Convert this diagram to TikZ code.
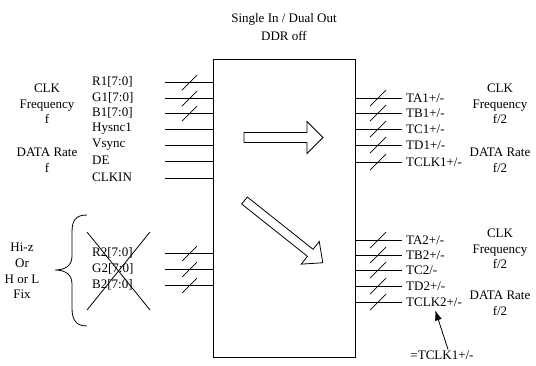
\documentclass[tikz,border=0pt]{standalone}
\usepackage{fontspec}
\setmainfont{Liberation Serif}
\usetikzlibrary{arrows.meta,positioning,calc}
\begin{document}
\begin{tikzpicture}[x=1pt,y=-1pt,>=Latex,font=\fontsize{13}{15.6}\selectfont,
wire/.style={line width=0.8pt},
busmark/.style={line width=0.7pt},
pinlabel/.style={anchor=west,inner sep=0pt},
ratelabel/.style={align=center,inner sep=0pt},
blockarrow/.style={draw,line width=0.8pt,fill=white,line join=miter}]
\useasboundingbox (0,0) rectangle (536,365);
\node[draw,line width=0.9pt,minimum width=142pt,minimum height=298pt,inner sep=0pt] (chip) at (284,208) {};
\node[ratelabel] (title) at (284,27) {Single In / Dual Out\\[2.4pt]DDR off};
\foreach \y/\lab/\bus [count=\i] in {82/R1[7:0]/1,98/G1[7:0]/1,113/B1[7:0]/1,129/Hysnc1/0,145/Vsync/0,161/DE/0,178/CLKIN/0,253/R2[7:0]/1,269/G2[7:0]/1,285/B2[7:0]/1}{
  \coordinate (in\i) at (165,\y);
  \draw[wire] (in\i) -- (in\i -| chip.west);
  \node[pinlabel] (inlab\i) at (92,\y-0.5) {\lab};
  \ifnum\bus=1 \draw[busmark] ($(in\i)+(17,8)$) -- ++(15,-15); \fi
}
\foreach \y/\lab [count=\i] in {98/{TA1+/-},113/{TB1+/-},129/{TC1+/-},145/{TD1+/-},162/{TCLK1+/-},240/{TA2+/-},255/{TB2+/-},270/{TC2/-},286/{TD2+/-},302/{TCLK2+/-}}{
  \coordinate (out\i) at (402,\y);
  \draw[wire] (out\i -| chip.east) -- (out\i);
  \node[pinlabel] (outlab\i) at (406,\y) {\lab};
  \draw[busmark] ($(out\i)+(-32,8)$) -- ++(16,-16);
}
\node[ratelabel] (clkin) at (47,104) {CLK\\Frequency\\f};
\node[ratelabel] (ratein) at (47,160.5) {DATA Rate\\f};
\node[ratelabel] (clkout1) at (500,104) {CLK\\Frequency\\f/2};
\node[ratelabel] (rateout1) at (500,160.5) {DATA Rate\\f/2};
\node[ratelabel] (clkout2) at (500,249) {CLK\\Frequency\\f/2};
\node[ratelabel] (rateout2) at (500,303) {DATA Rate\\f/2};
\node[ratelabel] (fix) at (22,271) {Hi-z\\Or\\H or L\\Fix};
\draw[wire] (87,215) .. controls (76,215) and (72,220) .. (72,232) -- (72,256) .. controls (72,265) and (66,270) .. (55,270) .. controls (66,270) and (72,275) .. (72,284) -- (72,308) .. controls (72,320) and (76,326) .. (87,326);
\draw[wire] (87,232) -- (150,310);
\draw[wire] (87,310) -- (150,232);
\draw[blockarrow,shift={(244,137.5)}] (0,-5) -- (63,-5) -- (63,-16) -- (79,0) -- (63,16) -- (63,5) -- (0,5) -- cycle;
\draw[blockarrow,shift={(244.5,200.5)},rotate=-38.5] (0,-4.5) -- (84,-4.5) -- (84,-14.5) -- (100,0) -- (84,14.5) -- (84,4.5) -- (0,4.5) -- cycle;
\node[inner sep=0pt] (tclk1) at (442,355) {=TCLK1+/-};
\draw[wire,-{Latex[length=10pt,width=7pt]},shorten >=4pt] ($(tclk1.north)+(6,-1)$) -- (outlab10.south);
\end{tikzpicture}
\end{document}
